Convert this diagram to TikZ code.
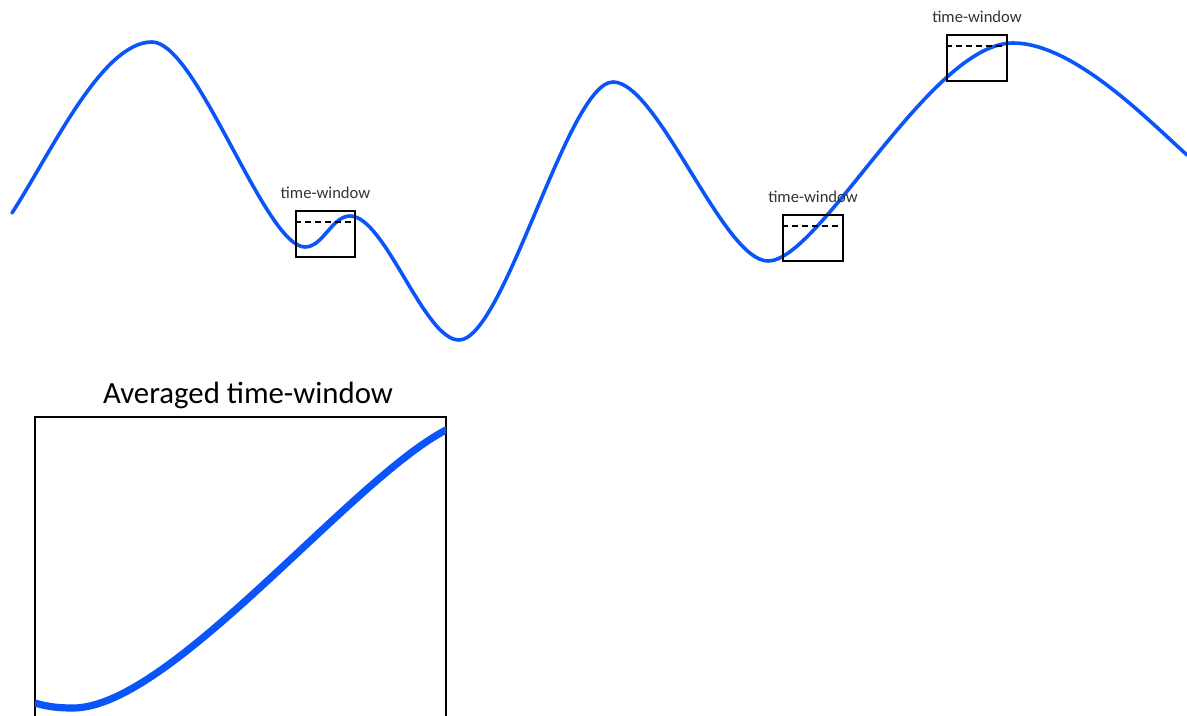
\documentclass[tikz,border=0pt]{standalone}
\usepackage{fontspec}
\setmainfont{Carlito}
\definecolor{signalblue}{RGB}{10,85,250}

\begin{document}
\begin{tikzpicture}[
    x=0.5pt,
    y=-0.5pt,
    signal/.style={signalblue, line width=1.8pt, line cap=round},
    window/.style={draw, line width=0.9pt, minimum width=29.75pt, minimum height=23pt, inner sep=0pt},
    lbl/.style={font=\fontsize{8.3}{10}\selectfont, text=black!80, anchor=base, inner sep=0pt}
]
\useasboundingbox (0,0) rectangle (1187,716);

% --- Signal ---
\draw[signal] (12,213) .. controls (52,151) and (102,42) .. (152,42)
    .. controls (197,42) and (265,247) .. (305,247)
    .. controls (323,247) and (332,216) .. (350,216)
    .. controls (385,216) and (424,340) .. (459,340)
    .. controls (504,340) and (568,82) .. (613,82)
    .. controls (658,82) and (723,261) .. (768,261)
    .. controls (820,261) and (930,43) .. (1013,43)
    .. controls (1073,43) and (1147,119) .. (1187,155);

% --- Time windows ---
\node[window] (w1) at (325.5,234) {};
\node[window] (w2) at (813,238) {};
\node[window] (w3) at (977,58) {};
\foreach \w in {w1,w2,w3} {
    \draw[line width=0.9pt, dash pattern=on 3pt off 2pt]
        ([yshift=-6pt]\w.north west) -- ([yshift=-6pt]\w.north east);
    \node[lbl] (\w-lbl) at ([yshift=6pt]\w.north) {time-window};
}

% --- Averaged time-window ---
\draw[line width=0.9pt] (35,417) coordinate (avgnw) rectangle (446,740) coordinate (avgse);
\node[font=\fontsize{15.4}{18}\selectfont, anchor=base, inner sep=0pt] (avg) at (248,403) {Averaged time-window};

\begin{scope}
\clip (35,417) rectangle (446,716);
\draw[signal, line width=3.6pt] (35,703) .. controls (48,707) and (60,708) .. (73,708)
    .. controls (170,708) and (350,480) .. (446,430);
\end{scope}

\end{tikzpicture}
\end{document}
